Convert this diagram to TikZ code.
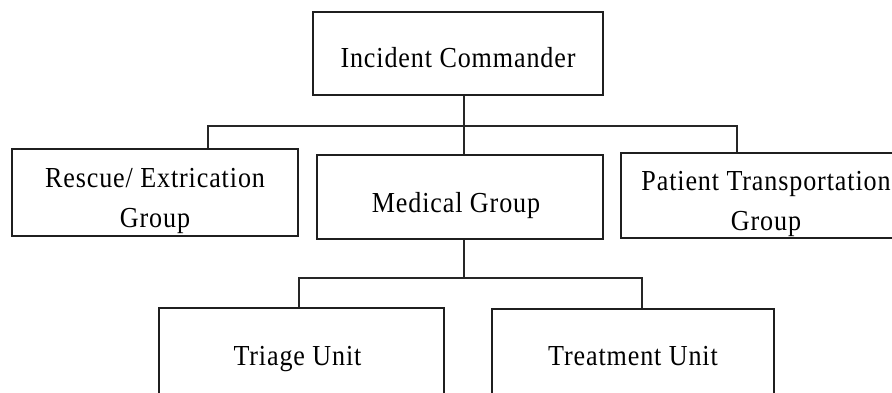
\documentclass[tikz,border=0pt]{standalone}
\usepackage{fontspec}
\setmainfont{Liberation Serif}[FakeStretch=0.9, LetterSpace=3]
\begin{document}
\begin{tikzpicture}[x=1pt, y=-1pt,
  unitbox/.style={draw=black!88, line width=2pt, rectangle, inner sep=0pt},
  boxtext/.style={align=center, inner sep=0pt, font=\fontsize{29}{40}\selectfont},
  link/.style={draw=black!85, line width=1.7pt}]
  \path[use as bounding box, clip] (0,0) rectangle (892,393);
  \fill[white] (0,0) rectangle (892,393);

  % command level
  \node[unitbox, minimum width=290pt, minimum height=83pt,
        label={[boxtext, yshift=-4.5pt]center:Incident Commander}] (ic) at (458,53.5) {};

  % group level
  \node[unitbox, minimum width=286pt, minimum height=87pt,
        label={[boxtext, yshift=-8pt]center:Rescue/ Extrication\\Group}] (rescue) at (155,192.5) {};
  \node[unitbox, minimum width=286pt, minimum height=84pt,
        label={[boxtext, xshift=-4pt, yshift=-9pt]center:Medical Group}] (mg) at (460,197) {};
  \node[unitbox, minimum width=290pt, minimum height=85pt,
        label={[boxtext, yshift=-8pt]center:Patient Transportation\\Group}] (patient) at (766,195.5) {};

  % unit level
  \node[unitbox, minimum width=285pt, minimum height=92pt,
        label={[boxtext, xshift=-4pt, yshift=-5pt]center:Triage Unit}] (triage) at (301.5,354) {};
  \node[unitbox, minimum width=282pt, minimum height=92pt,
        label={[boxtext, yshift=-1pt]center:Treatment Unit}] (treat) at (633,355) {};

  % junctions of the connector bars
  \coordinate (j1) at (464,126);
  \coordinate (jl) at (208,126);
  \coordinate (jr) at (737,126);
  \coordinate (j2) at (464,278);
  \coordinate (kl) at (299,278);
  \coordinate (kr) at (642,278);

  \draw[link] (ic.south -| j1) -- (j1) -- (j1 |- mg.north);
  \draw[link] (jl |- rescue.north) -- (jl) -- (jr) -- (jr |- patient.north);
  \draw[link] (mg.south -| j2) -- (j2);
  \draw[link] (kl |- triage.north) -- (kl) -- (kr) -- (kr |- treat.north);
\end{tikzpicture}
\end{document}
